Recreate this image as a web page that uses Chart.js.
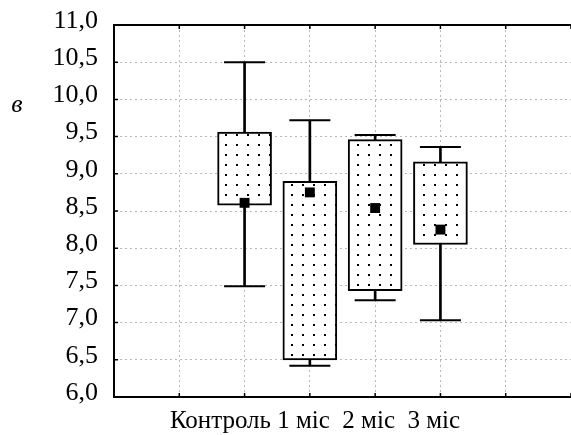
<!DOCTYPE html>
<html>
<head>
<meta charset="utf-8">
<script src="https://cdn.jsdelivr.net/npm/chart.js@4/dist/chart.umd.min.js"></script>
<style>
html, body { margin: 0; padding: 0; background: #fff; }
</style>
</head>
<body>
<canvas id="boxCanvas" width="571" height="435"></canvas>
<script>
///// données
let groupes = ["Контроль", "1 міс", "2 міс", "3 міс"];
let positions = [2, 3, 4, 5];
let moyennes = [8.61, 8.75, 8.54, 8.25];
let boiteBas = [8.58, 6.50, 7.43, 8.05];
let boiteHaut = [9.56, 8.90, 9.46, 9.16];
let minimum = [7.49, 6.42, 7.30, 7.03];
let maximum = [10.50, 9.72, 9.52, 9.36];
let yMin = 6, yMax = 11, yPas = 0.5;
let xMin = 0, xMax = 7, xPas = 1;
let lettre = "в";

///// motif pointillé pour les boîtes
let motif = document.createElement("canvas");
motif.width = 11;
motif.height = 10;
let mctx = motif.getContext("2d");
mctx.fillStyle = "#fff";
mctx.fillRect(0, 0, 11, 10);
mctx.fillStyle = "#000";
mctx.fillRect(5, 4, 2, 2);
let canvas = document.getElementById("boxCanvas");
let remplissage = canvas.getContext("2d").createPattern(motif, "repeat");

let serif = "'Liberation Serif', 'Times New Roman', serif";

///// décor : cadre du haut, petites graduations, textes
let decor = {
    id: "decor",
    afterDraw(chart) {
        let ctx = chart.ctx;
        let a = chart.chartArea;
        let sx = chart.scales.x;
        let sy = chart.scales.y;
        ctx.save();
        ctx.strokeStyle = "#000";
        ctx.lineWidth = 2;
        ctx.beginPath();
        ctx.moveTo(a.left - 1, a.top);
        ctx.lineTo(a.right, a.top);
        ctx.stroke();
        ctx.lineWidth = 1.5;
        ctx.beginPath();
        sy.ticks.forEach(t => {
            let y = sy.getPixelForValue(t.value);
            ctx.moveTo(a.left, y);
            ctx.lineTo(a.left + 4, y);
        });
        sx.ticks.forEach(t => {
            let x = sx.getPixelForValue(t.value);
            ctx.moveTo(x, a.bottom);
            ctx.lineTo(x, a.bottom - 4);
            ctx.moveTo(x, a.top);
            ctx.lineTo(x, a.top + 4);
        });
        ctx.stroke();
        ctx.fillStyle = "#000";
        ctx.textBaseline = "alphabetic";
        ctx.textAlign = "center";
        ctx.font = "25px " + serif;
        let texte = groupes[0] + " " + groupes.slice(1).join("  ");
        ctx.fillText(texte, 315, 428);
        ctx.font = "italic 26px " + serif;
        ctx.fillText(lettre, 17, 112);
        ctx.restore();
    }
};

///// création du graphique
let boxChart = new Chart(canvas, {
    type: "bar",
    data: {
        datasets: [{
            type: "scatter",
            data: positions.map((p, i) => ({x: p, y: moyennes[i]})),
            pointStyle: "rect",
            pointRadius: 7,
            backgroundColor: "#000",
            borderWidth: 0,
            order: 0
        }, {
            type: "scatter",
            data: positions.map((p, i) => ({x: p, y: minimum[i]}))
                .concat(positions.map((p, i) => ({x: p, y: maximum[i]}))),
            pointStyle: "line",
            pointRadius: 20.5,
            borderColor: "#000",
            borderWidth: 2,
            order: 1
        }, {
            data: positions.map((p, i) => ({x: p, y: [boiteBas[i], boiteHaut[i]]})),
            backgroundColor: remplissage,
            borderColor: "#000",
            borderWidth: 2,
            borderSkipped: false,
            barThickness: 54,
            grouped: false,
            order: 2
        }, {
            data: positions.map((p, i) => ({x: p, y: [minimum[i], maximum[i]]})),
            backgroundColor: "#000",
            borderWidth: 0,
            barThickness: 2,
            grouped: false,
            order: 3
        }]
    },
    options: {
        responsive: false,
        animation: false,
        layout: { autoPadding: false, padding: { top: 25, left: 0, right: 0, bottom: 0 } },
        plugins: {
            legend: { display: false },
            tooltip: { enabled: false }
        },
        scales: {
            x: {
                type: "linear",
                min: xMin,
                max: xMax,
                offset: false,
                ticks: { stepSize: xPas, display: false },
                grid: { offset: false, color: "#b8b8b8", lineWidth: 1, drawTicks: false },
                border: { color: "#000", width: 2, dash: [2, 3] },
                afterFit: scale => { scale.height = 38; }
            },
            y: {
                min: yMin,
                max: yMax,
                ticks: {
                    stepSize: yPas,
                    padding: 16,
                    labelOffset: -4,
                    color: "#000",
                    font: { family: serif, size: 26 },
                    callback: v => v.toFixed(1).replace(".", ",")
                },
                grid: { color: "#b8b8b8", lineWidth: 1, drawTicks: false },
                border: { color: "#000", width: 2, dash: [2, 3] },
                afterFit: scale => {
                    scale.width = 114;
                    scale.paddingTop = 0;
                    scale.paddingBottom = 0;
                }
            }
        }
    },
    plugins: [decor]
});
</script>
</body>
</html>
